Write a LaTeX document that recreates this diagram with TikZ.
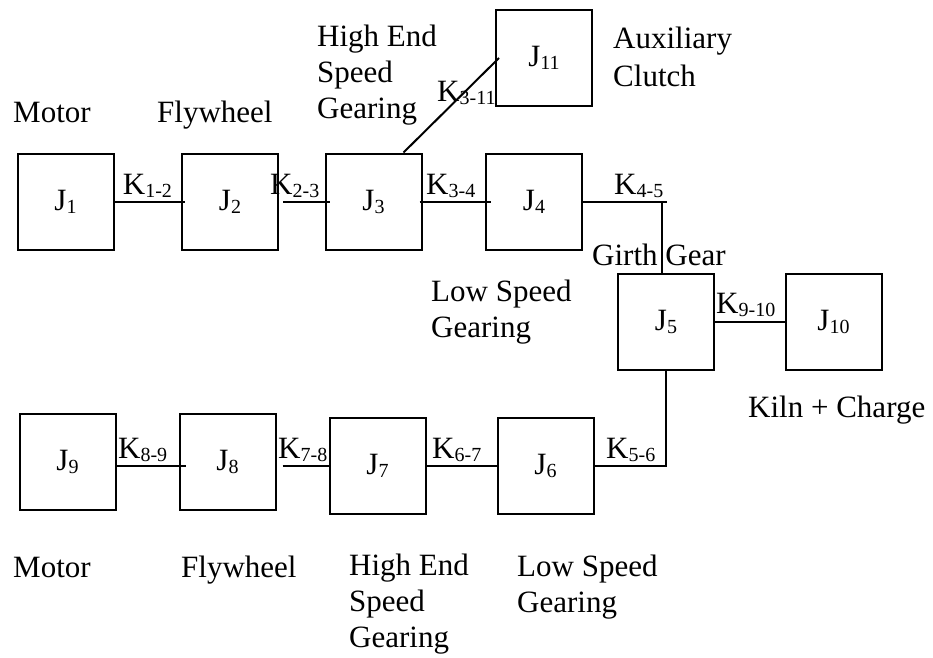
\documentclass[tikz,border=0pt]{standalone}
\usepackage{fontspec}
\setmainfont{Liberation Serif}
\newcommand\sbx[1]{\raisebox{-3pt}{\fontsize{20}{20}\selectfont #1}}
\begin{document}
\begin{tikzpicture}[x=1pt,y=-1pt,
  font=\fontsize{31}{36}\selectfont,
  jbox/.style={draw, line width=2pt, minimum width=96pt, minimum height=96pt, inner sep=0pt},
  lbl/.style={anchor=base west, inner sep=0pt, align=left},
  klbl/.style={anchor=base west, inner sep=0pt},
  shaft/.style={line width=2pt}]
\useasboundingbox (0,0) rectangle (933,657);

% inertia boxes
\node[jbox] (J1) at (65.5,201.5) {J\sbx{1}};
\node[jbox] (J2) at (230,201.5) {J\sbx{2}};
\node[jbox] (J3) at (373.5,201.5) {J\sbx{3}};
\node[jbox] (J4) at (534,201.5) {J\sbx{4}};
\node[jbox] (J11) at (544,58) {J\sbx{11}};
\node[jbox] (J5) at (666,322) {J\sbx{5}};
\node[jbox] (J10) at (833.5,322) {J\sbx{10}};
\node[jbox] (J9) at (67.5,461.5) {J\sbx{9}};
\node[jbox] (J8) at (227.5,461.5) {J\sbx{8}};
\node[jbox] (J7) at (377.5,466) {J\sbx{7}};
\node[jbox] (J6) at (545.5,466) {J\sbx{6}};

% shafts
\draw[shaft] (J1.east) -- ([xshift=4pt]J2.west);
\draw[shaft] ([xshift=4pt]J2.east) -- ([xshift=5pt]J3.west);
\draw[shaft] ([xshift=-3pt]J3.east) -- ([xshift=6pt]J4.west);
\draw[shaft] ([xshift=30pt]J3.north) -- ([xshift=4pt]J11.west);
\draw[shaft] (J4.east) -- ([xshift=1pt]J5.north |- J4.east);
\draw[shaft] ([xshift=-4pt]J5.north) -- ([xshift=-4pt]J5.north |- J4.east);
\draw[shaft] (J5.east) -- (J10.west);
\draw[shaft] (J5.south) |- (J6.east);
\draw[shaft] (J7.east) -- (J6.west);
\draw[shaft] ([xshift=6pt]J8.east |- J7.west) -- (J7.west);
\draw[shaft] (J9.east |- J7.west) -- ([xshift=7pt]J8.west |- J7.west);

% stiffness labels
\node[klbl] (k12) at (122.7,194) {K\sbx{1-2}};
\node[klbl] (k23) at (270,194) {K\sbx{2-3}};
\node[klbl] (k34) at (426,194) {K\sbx{3-4}};
\node[klbl] (k311) at (437,101) {K\sbx{3-11}};
\node[klbl] (k45) at (614,194) {K\sbx{4-5}};
\node[klbl] (k910) at (716,313) {K\sbx{9-10}};
\node[klbl] (k56) at (606,458) {K\sbx{5-6}};
\node[klbl] (k67) at (432,458) {K\sbx{6-7}};
\node[klbl] (k78) at (278,458) {K\sbx{7-8}};
\node[klbl] (k89) at (118,458) {K\sbx{8-9}};

% descriptive labels (base = last line's baseline)
\node[lbl] (motorA) at (13,122) {Motor};
\node[lbl] (flyA) at (157,122) {Flywheel};
\node[lbl] (hesA) at (317,118) {High End\\Speed\\Gearing};
\node[lbl, font=\fontsize{31}{38}\selectfont] (aux) at (613,86) {Auxiliary\\Clutch};
\node[lbl] (lsA) at (431,337) {Low Speed\\Gearing};
\node[lbl] (girth) at (592,265) {Girth Gear};
\node[lbl] (kiln) at (748,417) {Kiln + Charge};
\node[lbl] (motorB) at (13,577) {Motor};
\node[lbl] (flyB) at (181,577) {Flywheel};
\node[lbl] (hesB) at (349,647) {High End\\Speed\\Gearing};
\node[lbl] (lsB) at (517,612) {Low Speed\\Gearing};
\end{tikzpicture}
\end{document}
